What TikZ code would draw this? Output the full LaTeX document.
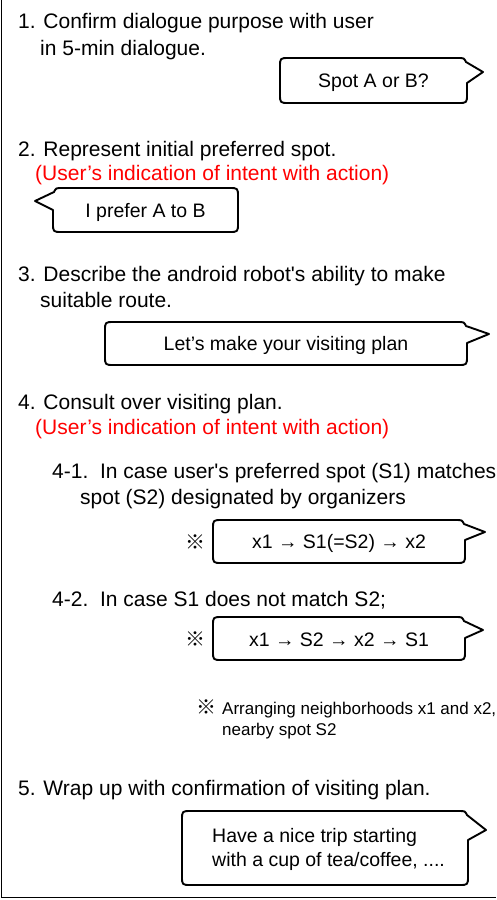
\documentclass[tikz,border=0pt]{standalone}
\usepackage{fontspec}
\setmainfont{Liberation Sans}[Ligatures=TeXOff]
\newfontfamily\cjk{Noto Sans CJK JP}
\newcommand{\bubR}[7]{\draw[bub] ({#1+9},#2) -- ({#3-9},#2) .. controls ({#3-3},#2) .. ({#3-1},{#2+4}) -- (#5,#6) -- (#3,#7) -- (#3,{#4-9}) .. controls (#3,#4) .. ({#3-9},#4) -- ({#1+9},#4) .. controls (#1,#4) .. (#1,{#4-9}) -- (#1,{#2+9}) .. controls (#1,#2) .. ({#1+9},#2) -- cycle;}
\newcommand{\bubL}[7]{\draw[bub] ({#1+9},#2) -- ({#3-9},#2) .. controls (#3,#2) .. (#3,{#2+9}) -- (#3,{#4-9}) .. controls (#3,#4) .. ({#3-9},#4) -- ({#1+9},#4) .. controls (#1,#4) .. (#1,{#4-9}) -- (#1,#7) -- (#5,#6) -- ({#1+1},{#2+4}) .. controls ({#1+3},#2) .. ({#1+9},#2) -- cycle;}
\tikzset{
  bub/.style={line width=1.9pt, line join=round},
  txt/.style={anchor=base west, inner sep=0pt, font=\fontsize{21}{25}\selectfont},
  redtxt/.style={txt, text=red},
  btxt/.style={inner sep=0pt, font=\fontsize{19.5}{24}\selectfont},
  notetxt/.style={anchor=base west, inner sep=0pt, font=\fontsize{17}{21}\selectfont},
  refmark/.style={inner sep=0pt, font=\cjk\fontsize{20}{22}\selectfont},
}
\begin{document}
\begin{tikzpicture}[x=1pt,y=-1pt]
\useasboundingbox (0,0) rectangle (496,900);
\draw[line width=1.3pt] (1.5,0) -- (1.5,897.5) -- (496,897.5);
% 1
\node[txt] (t1a) at (18,28) {1. Confirm dialogue purpose with user};
\node[txt] (t1b) at (40,55) {in 5-min dialogue.};
\bubR{280}{58}{467}{103}{483}{72}{83}
\node[btxt] (b1) at (373.5,82.5) {Spot A or B?};
% 2
\node[txt] (t2a) at (18,156) {2. Represent initial preferred spot.};
\node[redtxt] (t2b) at (35,180) {(User’s indication of intent with action)};
\bubL{53}{188}{238}{232}{35}{201}{210}
\node[btxt] (b2) at (145.5,212) {I prefer A to B};
% 3
\node[txt] (t3a) at (18,281) {3. Describe the android robot's ability to make};
\node[txt] (t3b) at (40,307) {suitable route.};
\bubR{105}{322}{467}{365}{489}{334}{343}
\node[btxt] (b3) at (286,345.5) {Let’s make your visiting plan};
% 4
\node[txt] (t4a) at (18,409) {4. Consult over visiting plan.};
\node[redtxt] (t4b) at (35,434) {(User’s indication of intent with action)};
\node[txt] (t41a) at (52,478) {4-1.\ \ In case user's preferred spot (S1) matches};
\node[txt] (t41b) at (80,504) {spot (S2) designated by organizers};
\node[refmark] (m1) at (195,542) {※};
\bubR{213}{520}{465}{563}{485}{532}{540}
\node[btxt] (b41) at (339,543) {x1 → S1(=S2) → x2};
\node[txt] (t42) at (52,606) {4-2.\ \ In case S1 does not match S2;};
\node[refmark] (m2) at (195,639) {※};
\bubR{213}{617}{465}{660}{483}{630}{638}
\node[btxt] (b42) at (339,640) {x1 → S2 → x2 → S1};
\node[refmark, anchor=base] (m3) at (206,714) {※};
\node[notetxt] (n1) at (222,714) {Arranging neighborhoods x1 and x2,};
\node[notetxt] (n2) at (222,735) {nearby spot S2};
% 5
\node[txt] (t5) at (18,795) {5. Wrap up with confirmation of visiting plan.};
\bubR{182}{811}{468}{885}{486}{830}{840}
\node[btxt, anchor=base west] (b5a) at (212,842) {Have a nice trip starting};
\node[btxt, anchor=base west] (b5b) at (212,866) {with a cup of tea/coffee, ....};
\end{tikzpicture}
\end{document}
